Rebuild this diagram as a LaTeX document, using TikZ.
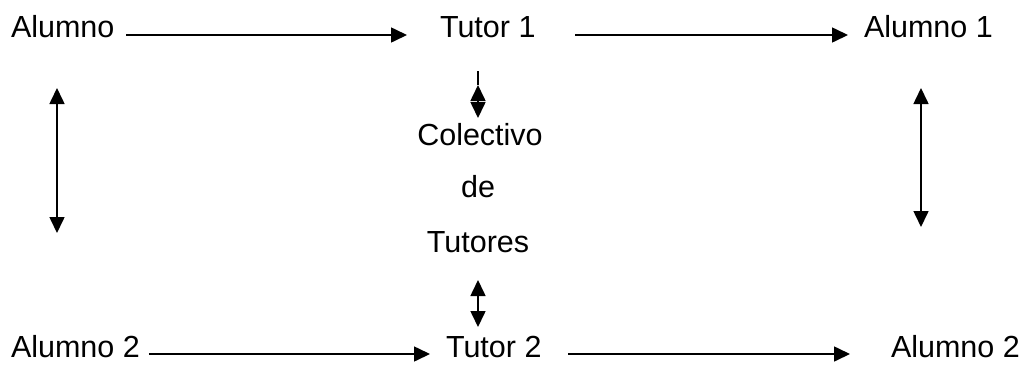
\documentclass[tikz,border=0pt]{standalone}
\usepackage{fontspec}
\setmainfont{Liberation Sans}
\usetikzlibrary{arrows.meta}
\begin{document}
\begin{tikzpicture}[x=1pt,y=-1pt,
  lbl/.style={inner sep=0pt,outer sep=0pt,font=\fontsize{30.5}{36}\selectfont},
  tip/.style={},
  arr/.style={line width=1.6pt,-{Triangle[length=16pt,width=15pt]}},
  darr/.style={line width=1.6pt,{Triangle[length=16pt,width=15pt]}-{Triangle[length=16pt,width=15pt]}},
  plain/.style={line width=1.6pt}]
\useasboundingbox (0,0) rectangle (1025,365);
% top row
\node[lbl,anchor=base west] (a0) at (11,37) {Alumno};
\node[lbl,anchor=base west] (t1) at (440,37) {Tutor 1};
\node[lbl,anchor=base west] (a1) at (864,37) {Alumno 1};
% middle
\node[lbl,anchor=base] (c1) at (480,145) {Colectivo};
\node[lbl,anchor=base] (c2) at (478,197) {de};
\node[lbl,anchor=base] (c3) at (478,252) {Tutores};
% bottom row
\node[lbl,anchor=base west] (a2) at (11,357) {Alumno 2};
\node[lbl,anchor=base west] (t2) at (446,357) {Tutor 2};
\node[lbl,anchor=base west] (a3) at (891,357) {Alumno 2};
% horizontal arrows
\draw[arr] ([xshift=12pt,yshift=2pt]a0.base east) -- ([xshift=-33pt,yshift=2pt]t1.base west);
\draw[arr] ([xshift=40pt,yshift=2pt]t1.base east) -- ([xshift=-16pt,yshift=2pt]a1.base west);
\draw[arr] ([xshift=9pt,yshift=3pt]a2.base east) -- ([xshift=-16pt,yshift=3pt]t2.base west);
\draw[arr] ([xshift=27pt,yshift=3pt]t2.base east) -- ([xshift=-41pt,yshift=3pt]a3.base west);
% vertical arrows
\coordinate (lt) at (57,88);
\coordinate (lb) at (57,233);
\draw[darr] (lt) -- (lb);
\coordinate (rt) at (921,88);
\coordinate (rb) at (921,227);
\draw[darr] (rt) -- (rb);
\coordinate (m1a) at (478,71);
\coordinate (m1t) at (478,85);
\coordinate (m1b) at (478,118);
\draw[plain] (m1a) -- (m1t);
\draw[darr] (m1t) -- (m1b);
\coordinate (m2t) at (478,280);
\coordinate (m2b) at (478,327);
\draw[darr] (m2t) -- (m2b);
\end{tikzpicture}
\end{document}
